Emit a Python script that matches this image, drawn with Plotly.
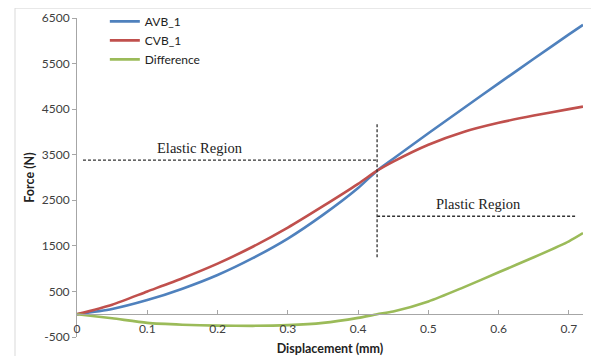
import plotly.graph_objects as go

displacement = [0, 0.05, 0.1, 0.15, 0.2, 0.25, 0.3, 0.35, 0.4, 0.427, 0.45, 0.5, 0.55, 0.6, 0.65, 0.7, 0.72]
avb_1 = [0, 115, 310, 560, 860, 1230, 1660, 2180, 2770, 3150, 3410, 3970, 4520, 5065, 5605, 6140, 6350]
cvb_1 = [0, 210, 500, 790, 1110, 1480, 1900, 2370, 2860, 3150, 3350, 3720, 4000, 4200, 4360, 4500, 4555]
difference = [0, -90, -190, -230, -250, -255, -240, -190, -80, 0, 60, 280, 590, 920, 1250, 1600, 1780]

x_ticks = [0, 0.1, 0.2, 0.3, 0.4, 0.5, 0.6, 0.7]
x_tick_labels = ["0", "0.1", "0.2", "0.3", "0.4", "0.5", "0.6", "0.7"]
y_ticks = [-500, 500, 1500, 2500, 3500, 4500, 5500, 6500]
y_tick_labels = ["-500", "500", "1500", "2500", "3500", "4500", "5500", "6500"]

series = [
    ("AVB_1", avb_1, "#4F81BD"),
    ("CVB_1", cvb_1, "#C0504D"),
    ("Difference", difference, "#9BBB59"),
]

fig = go.Figure()
for name, vals, col in series:
    fig.add_trace(go.Scatter(x=displacement, y=vals, name=name, mode="lines",
                             line=dict(color=col, width=2.6, shape="spline", smoothing=0.7)))

ymin, ymax = -500, 6500
dash = dict(color="#333333", width=1.3, dash="3px,2px")
shapes = [
    dict(type="rect", xref="paper", yref="paper", x0=-0.1225, x1=1.2, y0=-0.3, y1=1.031,
         line=dict(color="#D9D9D9", width=1), fillcolor="rgba(0,0,0,0)", layer="below"),
    dict(type="line", xref="x", yref="y", x0=0.0085, x1=0.427, y0=3380, y1=3380, line=dash),
    dict(type="line", xref="x", yref="y", x0=0.427, x1=0.427, y0=1250, y1=4170, line=dash),
    dict(type="line", xref="x", yref="y", x0=0.427, x1=0.709, y0=2150, y1=2150, line=dash),
]
annotations = [
    dict(text="Elastic Region", x=0.175, y=3380, xref="x", yref="y", yanchor="bottom",
         showarrow=False, yshift=2, font=dict(family="Liberation Serif", size=14.5, color="#222222")),
    dict(text="Plastic Region", x=0.571, y=2150, xref="x", yref="y", yanchor="bottom",
         showarrow=False, yshift=2, font=dict(family="Liberation Serif", size=14.5, color="#222222")),
]

fig.update_layout(
    width=591, height=348,
    margin=dict(l=69, r=16, t=10, b=19, autoexpand=False),
    paper_bgcolor="white", plot_bgcolor="white",
    font=dict(family="Lato", size=12, color="#404040"),
    showlegend=True,
    legend=dict(x=0.055, y=1.035, xanchor="left", yanchor="top", bgcolor="rgba(0,0,0,0)",
                font=dict(size=12, color="#222222"), tracegroupgap=0, itemwidth=30),
    shapes=shapes, annotations=annotations,
    xaxis=dict(range=[0, 0.72], tickvals=x_ticks, ticktext=x_tick_labels,
               anchor="free", position=(0 - ymin) / (ymax - ymin), automargin=False,
               showline=True, linecolor="#A6A6A6", linewidth=1, showgrid=False, zeroline=False,
               ticks="inside", ticklen=4, tickcolor="#A6A6A6", ticklabelstandoff=3,
               title=dict(text="<b>Displacement (mm)</b>", standoff=9,
                          font=dict(size=12.5, color="#222222"))),
    yaxis=dict(range=[ymin, ymax], tickvals=y_ticks, ticktext=y_tick_labels, automargin=False,
               showline=True, linecolor="#A6A6A6", linewidth=1, showgrid=False, zeroline=False,
               ticks="outside", ticklen=4, tickcolor="#A6A6A6",
               title=dict(text="<b>Force (N)</b>", standoff=4,
                          font=dict(size=12.5, color="#222222"))),
)

fig.write_html("out.html")
